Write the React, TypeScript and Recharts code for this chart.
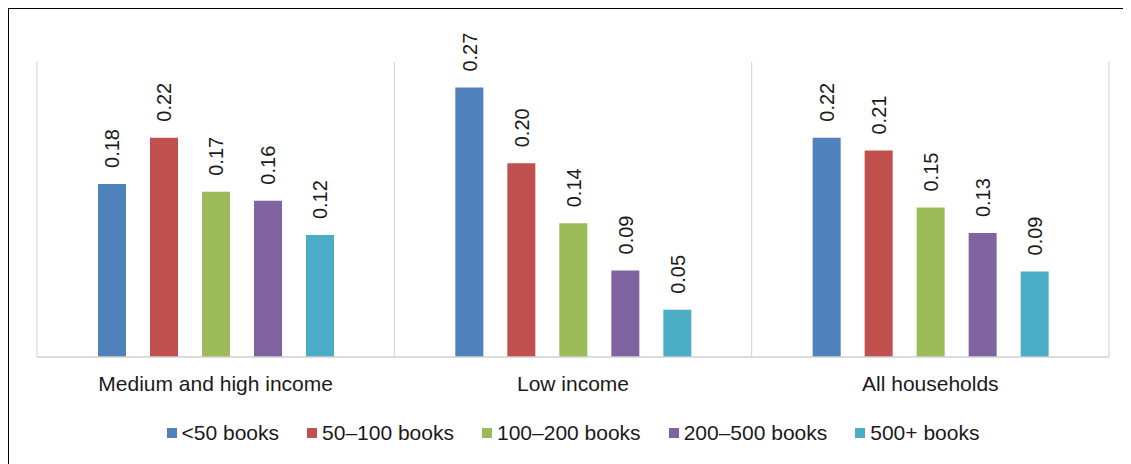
import React from 'react';
import { BarChart, Bar, XAxis, YAxis, CartesianGrid, Legend, LabelList } from 'recharts';

const categories = ['Medium and high income', 'Low income', 'All households'];
const seriesNames = ['<50 books', '50–100 books', '100–200 books', '200–500 books', '500+ books'];
const seriesColors = ['#4F81BD', '#C0504D', '#9BBB59', '#8064A2', '#4BACC6'];
const under50 = [0.176, 0.274, 0.223];
const from50to100 = [0.223, 0.197, 0.21];
const from100to200 = [0.168, 0.136, 0.152];
const from200to500 = [0.159, 0.088, 0.126];
const over500 = [0.124, 0.048, 0.087];
const seriesValues = [under50, from50to100, from100to200, from200to500, over500];
const yDomain = [0, 0.3];

const data = categories.map((c, i) => {
  const row: any = { category: c };
  seriesValues.forEach((vals, s) => {
    row['s' + s] = vals[i];
  });
  return row;
});

const FONT = '"Liberation Sans", Arial, sans-serif';

const renderLabel = (props: any) => {
  const { x, y, width, value } = props;
  const cx = Number(x) + Number(width) / 2;
  const ay = Number(y) - 16;
  return (
    <text
      x={cx}
      y={ay}
      dy="0.36em"
      transform={`rotate(-90, ${cx}, ${ay})`}
      textAnchor="start"
      fontSize={20}
      fontFamily={FONT}
      fill="#1a1a1a"
    >
      {Number(value).toFixed(2)}
    </text>
  );
};

const LegendContent = () => (
  <div
    style={{
      height: 30,
      display: 'flex',
      justifyContent: 'center',
      alignItems: 'center',
      fontFamily: FONT,
      fontSize: 21,
      color: '#1a1a1a',
      whiteSpace: 'nowrap',
    }}
  >
    {seriesNames.map((n, i) => (
      <div key={n} style={{ display: 'flex', alignItems: 'center', marginLeft: i === 0 ? 0 : 28 }}>
        <span style={{ width: 10, height: 10, background: seriesColors[i], display: 'inline-block', marginRight: 5 }} />
        <span>{n}</span>
      </div>
    ))}
  </div>
);

const gridGenerator = ({ offset }: any) => {
  const n = categories.length;
  const out: number[] = [];
  for (let i = 0; i <= n; i++) out.push(offset.left + (offset.width * i) / n);
  return out;
};

export default function App() {
  return (
    <div
      style={{
        width: 1123,
        height: 456,
        boxSizing: 'border-box',
        borderLeft: '1px solid #000',
        borderTop: '1px solid #000',
        background: '#fff',
      }}
    >
      <BarChart
        width={1122}
        height={455}
        data={data}
        margin={{ top: 53, right: 22, left: 28, bottom: 16 }}
        barGap={24}
        barSize={28}
      >
        <CartesianGrid
          horizontal={false}
          vertical={true}
          stroke="#d0d0d0"
          strokeWidth={1}
          verticalCoordinatesGenerator={gridGenerator}
        />
        <XAxis
          dataKey="category"
          axisLine={{ stroke: '#d0d0d0', strokeWidth: 1.5 }}
          tickLine={false}
          tickMargin={13}
          height={61}
          interval={0}
          tick={{ fontSize: 21, fontFamily: FONT, fill: '#1a1a1a' }}
        />
        <YAxis hide domain={yDomain} />
        <Legend verticalAlign="bottom" content={<LegendContent />} />
        {seriesNames.map((n, s) => (
          <Bar key={n} dataKey={'s' + s} name={n} fill={seriesColors[s]} isAnimationActive={false}>
            <LabelList dataKey={'s' + s} content={renderLabel} />
          </Bar>
        ))}
      </BarChart>
    </div>
  );
}
